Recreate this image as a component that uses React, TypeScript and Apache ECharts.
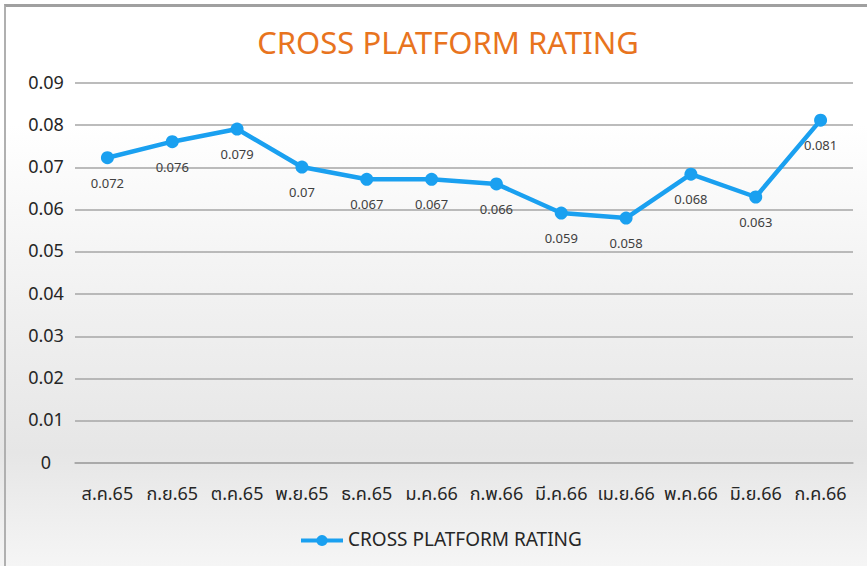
import React, { useEffect, useRef } from "react";
import * as echarts from "echarts";

const categories = ["ส.ค.65", "ก.ย.65", "ต.ค.65", "พ.ย.65", "ธ.ค.65", "ม.ค.66", "ก.พ.66", "มี.ค.66", "เม.ย.66", "พ.ค.66", "มิ.ย.66", "ก.ค.66"];
const ratingValues = [0.0723, 0.0761, 0.0791, 0.0701, 0.0672, 0.0672, 0.0661, 0.0592, 0.058, 0.0684, 0.063, 0.0812];
const seriesName = "CROSS PLATFORM RATING";
const titleText = "CROSS PLATFORM RATING";

const FONT = "'Noto Sans Thai', 'Noto Sans', 'DejaVu Sans', sans-serif";

export default function App() {
  const ref = useRef<HTMLDivElement>(null);
  useEffect(() => {
    document.body.style.margin = "0";
    if (!ref.current) return;
    const chart = echarts.init(ref.current, null, { renderer: "svg" });
    chart.setOption({
      animation: false,
      backgroundColor: "transparent",
      title: {
        text: titleText,
        left: 443,
        textAlign: "center",
        top: 21,
        textStyle: { color: "#E8741E", fontSize: 31, fontWeight: "normal", fontFamily: "'Noto Sans', sans-serif" },
      },
      grid: { left: 75, right: 14, top: 83, bottom: 103, containLabel: false },
      legend: {
        bottom: 11,
        left: 294,
        itemWidth: 42,
        itemHeight: 14,
        lineStyle: { width: 4 },
        textStyle: { color: "#262626", fontSize: 19, fontFamily: FONT, padding: [0, 0, 0, 0] },
        data: [{ name: seriesName }],
      },
      xAxis: {
        type: "category",
        data: categories,
        boundaryGap: true,
        axisLine: { show: true, lineStyle: { color: "#a6a6a6", width: 1.5 } },
        axisTick: { show: false },
        axisLabel: { color: "#262626", fontSize: 18, margin: 22, fontFamily: FONT, interval: 0 },
      },
      yAxis: {
        type: "value",
        min: 0,
        max: 0.09,
        interval: 0.01,
        axisLine: { show: false },
        axisTick: { show: false },
        splitLine: { lineStyle: { color: "#a6a6a6", width: 1.5 } },
        axisLabel: {
          color: "#262626",
          fontSize: 18,
          fontFamily: FONT,
          align: "center",
          margin: 29,
          formatter: (v: number) => (v === 0 ? "0" : String(parseFloat(v.toFixed(2)))),
        },
      },
      series: [
        {
          name: seriesName,
          type: "line",
          data: ratingValues,
          symbol: "circle",
          symbolSize: 13,
          color: "#1AA0F0",
          lineStyle: { width: 4.5, color: "#1AA0F0" },
          itemStyle: { color: "#1AA0F0" },
          label: {
            show: true,
            position: "bottom",
            distance: 12,
            color: "#404040",
            fontSize: 13,
            fontFamily: "'Noto Sans', sans-serif",
            formatter: (p: any) => String(parseFloat(Number(p.value).toFixed(3))),
          },
        },
      ],
    });
    return () => chart.dispose();
  }, []);
  return (
    <div
      style={{
        position: "relative",
        width: 867,
        height: 566,
        overflow: "hidden",
        background: "linear-gradient(to bottom, #ffffff 0%, #ffffff 22%, #f0f0f0 55%, #e6e6e6 80%, #f5f5f5 100%)",
      }}
    >
      <div
        style={{
          position: "absolute",
          left: 4,
          top: 4,
          width: 900,
          height: 600,
          borderTop: "3px solid #a0a0a0",
          borderLeft: "2px solid #b0b0b0",
          boxSizing: "border-box",
        }}
      />
      <div ref={ref} style={{ position: "absolute", left: 0, top: 0, width: 867, height: 566 }} />
    </div>
  );
}
